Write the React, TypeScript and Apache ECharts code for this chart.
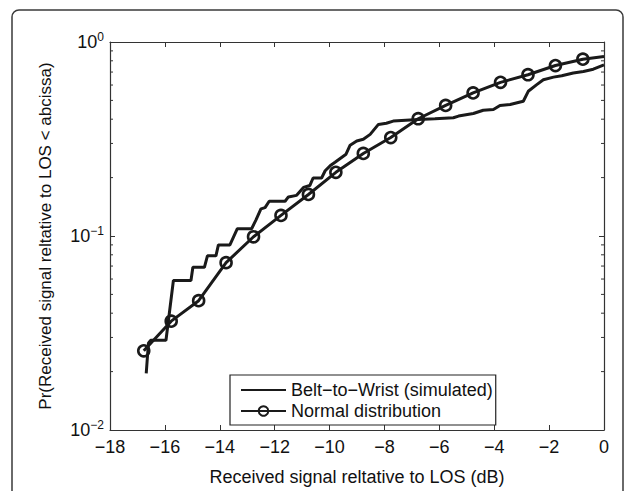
import { useEffect, useRef } from "react";
import * as echarts from "echarts";

const X_MIN = -18;
const X_MAX = 0;
const Y_MIN = 0.01;
const Y_MAX = 1;

const beltX = [
  -16.68, -16.6, -16.52, -15.96, -15.69, -15.05, -14.98, -14.56, -14.45, -14.14,
  -14.05, -13.63, -13.36, -12.84, -12.68, -12.5, -12.35, -12.2, -11.62, -11.5,
  -11.2, -10.95, -10.72, -10.6, -10.29, -10.16, -9.98, -9.8, -9.4, -9.25,
  -9.01, -8.77, -8.52, -8.22, -7.93, -7.68, -6.76, -6.16, -5.49, -5.3,
  -4.76, -4.4, -4.03, -3.79, -3.42, -2.94, -2.76, -2.45, -2.21, -1.84,
  -1.54, -1.12, -0.75, -0.39, 0,
];
const beltY = [
  0.0196, 0.028, 0.029, 0.029, 0.059, 0.059, 0.069, 0.069, 0.079, 0.079,
  0.09, 0.09, 0.109, 0.109, 0.121, 0.138, 0.14, 0.151, 0.151, 0.159,
  0.162, 0.178, 0.182, 0.199, 0.199, 0.217, 0.23, 0.24, 0.264, 0.294,
  0.309, 0.315, 0.334, 0.376, 0.381, 0.391, 0.399, 0.402, 0.407, 0.415,
  0.428, 0.445, 0.449, 0.471, 0.476, 0.495, 0.557, 0.603, 0.639, 0.659,
  0.67, 0.692, 0.705, 0.724, 0.762,
];

const normalX = [
  -16.77, -15.77, -14.77, -13.77, -12.77, -11.77, -10.77, -9.77, -8.77,
  -7.77, -6.77, -5.77, -4.77, -3.77, -2.77, -1.77, -0.77, 0,
];
const normalY = [
  0.0256, 0.0364, 0.0464, 0.0729, 0.0991, 0.1277, 0.1637, 0.213, 0.2663,
  0.3217, 0.4022, 0.4708, 0.5461, 0.6194, 0.678, 0.7564, 0.815, 0.841,
];
// the last normal point (x = 0) is drawn without a marker
const normalMarkerCount = 17;

const minorTickValues = [
  0.02, 0.03, 0.04, 0.05, 0.06, 0.07, 0.08, 0.09,
  0.2, 0.3, 0.4, 0.5, 0.6, 0.7, 0.8, 0.9,
];

const seriesNames = ["Belt\u2212to\u2212Wrist (simulated)", "Normal distribution"];
const xTitle = "Received signal reltative to LOS (dB)";
const yTitle = "Pr(Received signal reltative to LOS < abcissa)";

const FONT = "'Liberation Sans', Arial, Helvetica, sans-serif";
const INK = "#1a1a1a";
const AXIS = "#333333";

export default function App() {
  const ref = useRef<HTMLDivElement>(null);

  useEffect(() => {
    const chart = echarts.init(ref.current!, null, { renderer: "svg" });

    const beltData = beltX.map((x, i) => [x, beltY[i]]);
    const normalData = normalX.map((x, i) =>
      i < normalMarkerCount
        ? { value: [x, normalY[i]] }
        : { value: [x, normalY[i]], symbol: "none" }
    );

    const xLabelFmt = (v: number) =>
      v < 0 ? "\u2212" + Math.abs(v) : String(v);
    const yLabelFmt = (v: number) => {
      const e = Math.round(Math.log10(v));
      const s = e < 0 ? "\u2212" + Math.abs(e) : String(e);
      return `{b|10}{s|${s}}`;
    };

    const option: any = {
      animation: false,
      backgroundColor: "#ffffff",
      textStyle: { fontFamily: FONT },
      graphic: [
        {
          type: "rect",
          z: -10,
          silent: true,
          shape: { x: 12, y: 10, width: 611, height: 520, r: 7 },
          style: { fill: "none", stroke: "#3a3a3a", lineWidth: 1.5 },
        },
      ],
      grid: { left: 110, right: 27, top: 42, bottom: 58, containLabel: false },
      legend: {
        orient: "vertical",
        left: 230,
        top: 375,
        data: seriesNames,
        backgroundColor: "#ffffff",
        borderColor: "#222222",
        borderWidth: 1.2,
        borderRadius: 0,
        padding: [6, 3, 5, 10],
        itemWidth: 45,
        itemHeight: 12,
        itemGap: 3,
        textStyle: { fontFamily: FONT, fontSize: 18, color: "#111", lineHeight: 18 },
      },
      xAxis: [
        {
          type: "value",
          min: X_MIN,
          max: X_MAX,
          interval: 2,
          position: "bottom",
          name: xTitle,
          nameLocation: "middle",
          nameGap: 38,
          nameTextStyle: { fontFamily: FONT, fontSize: 18, color: "#111" },
          axisLine: { show: true, onZero: false, lineStyle: { color: AXIS, width: 1.2 } },
          axisTick: { show: true, inside: true, length: 5, lineStyle: { color: AXIS, width: 1 } },
          axisLabel: {
            margin: 8,
            fontFamily: FONT,
            fontSize: 18,
            color: "#111",
            formatter: xLabelFmt,
          },
          splitLine: { show: false },
        },
        {
          type: "value",
          min: X_MIN,
          max: X_MAX,
          interval: 2,
          position: "top",
          axisLine: { show: true, onZero: false, lineStyle: { color: AXIS, width: 1.2 } },
          axisTick: { show: true, inside: true, length: 5, lineStyle: { color: AXIS, width: 1 } },
          axisLabel: { show: false },
          splitLine: { show: false },
        },
      ],
      yAxis: [
        {
          type: "log",
          logBase: 10,
          min: Y_MIN,
          max: Y_MAX,
          position: "left",
          name: yTitle,
          nameLocation: "middle",
          nameGap: 56,
          nameTextStyle: { fontFamily: FONT, fontSize: 17, color: "#111" },
          axisLine: { show: true, onZero: false, lineStyle: { color: AXIS, width: 1.2 } },
          axisTick: { show: true, inside: true, length: 5, lineStyle: { color: AXIS, width: 1 } },
          axisLabel: {
            margin: 6,
            color: "#111",
            padding: [0, 0, 5, 0],
            formatter: yLabelFmt,
            rich: {
              b: { fontFamily: FONT, fontSize: 18, lineHeight: 18, padding: [5, 0, 0, 0], color: "#111" },
              s: { fontFamily: FONT, fontSize: 12, lineHeight: 12, verticalAlign: "top", color: "#111" },
            },
          },
          splitLine: { show: false },
        },
        {
          type: "log",
          logBase: 10,
          min: Y_MIN,
          max: Y_MAX,
          position: "right",
          axisLine: { show: true, onZero: false, lineStyle: { color: AXIS, width: 1.2 } },
          axisTick: { show: true, inside: true, length: 5, lineStyle: { color: AXIS, width: 1 } },
          axisLabel: { show: false },
          splitLine: { show: false },
        },
      ],
      series: [
        {
          type: "custom",
          name: "minorTicks",
          silent: true,
          xAxisIndex: 0,
          yAxisIndex: 0,
          clip: false,
          encode: { x: 0, y: 1 },
          data: minorTickValues.map((v) => [X_MIN, v]),
          renderItem: (_p: any, api: any) => {
            const v = api.value(1);
            const l = api.coord([X_MIN, v]);
            const r = api.coord([X_MAX, v]);
            const st = { stroke: AXIS, lineWidth: 1 };
            return {
              type: "group",
              children: [
                { type: "line", shape: { x1: l[0], y1: l[1], x2: l[0] + 3, y2: l[1] }, style: st },
                { type: "line", shape: { x1: r[0], y1: r[1], x2: r[0] - 3, y2: r[1] }, style: st },
              ],
            };
          },
        },
        {
          type: "line",
          name: seriesNames[0],
          xAxisIndex: 0,
          yAxisIndex: 0,
          data: beltData,
          symbol: "none",
          lineStyle: { color: INK, width: 3 },
          itemStyle: { color: "transparent", borderWidth: 0 },
          z: 3,
        },
        {
          type: "line",
          name: seriesNames[1],
          xAxisIndex: 0,
          yAxisIndex: 0,
          data: normalData,
          symbol: "circle",
          symbolSize: 11,
          showAllSymbol: true,
          lineStyle: { color: INK, width: 3 },
          itemStyle: { color: "transparent", borderColor: INK, borderWidth: 2.6 },
          z: 4,
        },
      ],
    };

    chart.setOption(option);
    return () => chart.dispose();
  }, []);

  return (
    <div
      ref={ref}
      style={{ position: "absolute", left: 0, top: 0, width: 631, height: 491, background: "#fff" }}
    />
  );
}
